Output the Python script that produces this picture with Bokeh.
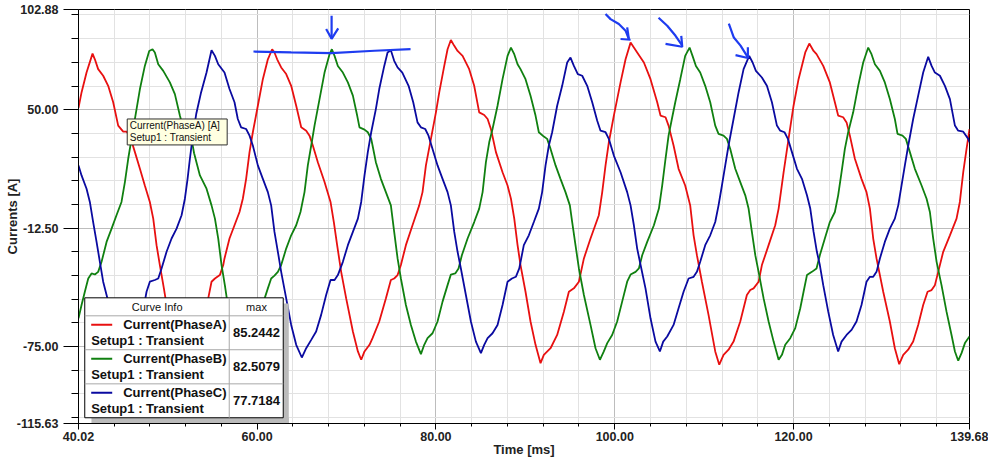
from bokeh.plotting import figure
from bokeh.models import FixedTicker, PrintfTickFormatter, Range1d
from bokeh.core.properties import value
from bokeh.embed import file_html
from bokeh.resources import INLINE

# ---------------- data ----------------
x_start, x_end = 40.02, 139.68
y_start, y_end = -115.63, 102.88
x_major = [40.02, 60.0, 80.0, 100.0, 120.0, 139.68]
x_minor = [44, 48, 52, 56, 64, 68, 72, 76, 84, 88, 92, 96, 104, 108, 112, 116, 124, 128, 132, 136]
y_major = [-115.63, -75.0, -12.5, 50.0, 102.88]
y_minor = [-112.5, -100, -87.5, -62.5, -50, -37.5, -25, 0, 12.5, 25, 37.5, 62.5, 75, 87.5, 100]

t_a = [40.02, 40.36, 40.92, 41.59, 41.85, 42.22, 42.78, 43.34, 43.90, 44.46, 45.02, 45.39, 45.77, 46.33,
       46.89, 47.44, 48.00, 48.38, 48.75, 49.12, 49.57, 50.05, 50.60, 51.20, 51.65, 52.00, 52.60, 53.30,
       53.90, 54.53, 54.90, 55.28, 55.83, 56.21, 56.35, 56.91, 57.47, 58.03, 58.40, 58.77, 59.15, 59.52,
       60.08, 60.64, 61.20, 61.68, 61.94, 62.24, 62.69, 63.25, 63.81, 64.37, 64.93, 65.49, 65.86, 66.23,
       66.79, 67.54, 68.21, 68.58, 68.95, 69.40, 69.96, 70.71, 71.27, 71.64, 72.01, 72.57, 72.91, 73.66,
       74.40, 74.96, 75.33, 75.71, 76.08, 76.64, 77.38, 78.13, 78.50, 78.88, 79.44, 80.00, 80.37, 80.93,
       81.30, 81.67, 82.05, 82.42, 82.98, 83.72, 84.28, 84.84, 85.40, 85.78, 86.15, 86.71, 87.45, 88.01,
       88.39, 88.76, 89.13, 89.46, 90.02, 90.58, 91.14, 91.70, 92.07, 92.82, 93.56, 94.31, 94.87, 95.43,
       95.99, 96.55, 97.29, 98.22, 98.60, 98.97, 99.34, 99.90, 100.65, 101.21, 101.77, 102.14, 102.51,
       103.26, 104.00, 104.75, 105.12, 105.68, 106.02, 106.58, 107.14, 107.88, 108.44, 108.82, 109.19,
       109.75, 110.49, 111.24, 111.69, 112.17, 112.73, 113.29, 114.04, 114.78, 115.16, 115.53, 116.09,
       116.46, 117.21, 117.95, 118.33, 118.89, 119.44, 120.00, 120.56, 121.31, 121.76, 122.24, 122.57,
       123.32, 124.06, 124.62, 124.99, 125.55, 125.93, 126.30, 126.86, 127.60, 128.16, 128.54, 128.91,
       129.28, 130.03, 130.77, 131.33, 131.82, 132.27, 132.82, 133.38, 133.94, 134.50, 134.99, 135.44,
       135.81, 136.18, 136.74, 137.49, 138.23, 138.60, 138.98, 139.35, 139.68]
i_a = [51.0, 59.1, 69.6, 79.6, 76.6, 71.4, 67.9, 62.6, 53.9, 41.6, 38.4, 38.4, 36.3, 27.6,
       18.8, 10.0, 1.3, -7.5, -21.5, -32.0, -44.3, -58.3, -68.0, -77.0, -82.0, -79.0, -76.0, -71.0,
       -61.0, -49.6, -40.8, -39.1, -37.3, -32.0, -28.5, -18.0, -11.0, -4.0, 3.0, 13.5, 27.6, 38.1,
       52.1, 66.1, 76.6, 81.9, 80.2, 76.6, 72.3, 68.8, 62.6, 52.1, 40.7, 38.9, 36.3, 31.1,
       22.3, 11.8, 1.3, -9.3, -21.5, -35.6, -49.6, -67.1, -77.6, -82.0, -77.6, -74.1, -70.6, -61.8,
       -49.6, -39.9, -39.1, -37.3, -32.0, -21.5, -11.0, -0.5, 6.5, 20.6, 34.6, 48.6, 59.1, 73.1,
       81.9, 86.8, 83.7, 81.0, 78.4, 71.4, 62.6, 48.6, 47.2, 45.1, 39.8, 27.6, 17.0, 10.0,
       3.0, -7.5, -21.5, -32.0, -46.1, -61.8, -74.1, -83.8, -79.4, -75.9, -68.9, -56.6, -46.1, -44.3,
       -40.8, -28.5, -18.0, -5.7, 6.5, 20.6, 32.8, 46.9, 64.4, 76.6, 85.4, 82.8, 80.2,
       74.9, 66.1, 53.9, 46.9, 46.0, 41.6, 31.1, 18.8, 10.0, -0.5, -16.3, -26.8,
       -40.8, -58.3, -77.6, -84.6, -79.4, -76.7, -72.4, -61.8, -47.8, -45.2, -44.3, -40.8,
       -32.0, -21.5, -11.0, -2.2, 17.0, 34.6, 52.1, 66.1, 80.2, 84.9, 81.0, 79.3,
       73.1, 64.4, 53.9, 46.9, 46.0, 43.3, 36.3, 24.1, 13.5, 6.5, -2.2, -18.0,
       -28.5, -46.1, -61.8, -75.9, -84.3, -79.4, -76.7, -72.4, -63.6, -53.1, -46.1, -45.2,
       -42.6, -35.6, -25.0, -16.3, -7.5, 1.3, 17.0, 29.3, 39.8]

t_b = [40.02, 40.36, 40.73, 41.11, 41.48, 41.85, 42.22, 42.60, 43.16, 43.72, 44.27, 44.83, 45.21, 45.58,
       45.95, 46.33, 46.89, 47.44, 47.93, 48.30, 48.56, 48.94, 49.50, 50.24, 50.80, 51.36, 51.70, 52.00,
       52.32, 52.70, 52.95, 53.60, 54.34, 54.90, 55.28, 55.65, 56.02, 56.39, 56.72, 57.20, 57.80, 58.30,
       58.67, 59.04, 59.60, 60.16, 60.72, 61.20, 61.57, 61.94, 62.32, 62.69, 63.25, 63.81, 64.37, 64.85,
       65.30, 65.67, 66.05, 66.42, 66.98, 67.54, 68.10, 68.36, 68.66, 69.03, 69.59, 70.15, 70.71, 71.19,
       71.45, 72.01, 72.38, 72.76, 72.91, 73.28, 73.84, 74.40, 74.96, 75.33, 75.71, 76.08, 76.64, 77.20,
       77.76, 78.32, 78.69, 79.06, 79.62, 80.18, 80.74, 81.30, 81.67, 82.16, 82.53, 82.90, 83.54, 84.28,
       84.84, 85.22, 85.59, 85.96, 86.33, 86.89, 87.45, 88.01, 88.39, 88.76, 89.13, 89.46, 90.02, 90.58,
       91.14, 91.51, 92.07, 92.44, 92.82, 93.38, 93.93, 94.49, 94.98, 95.24, 95.61, 95.99, 96.55, 97.29,
       97.85, 98.34, 98.78, 99.16, 99.71, 100.27, 100.83, 101.39, 101.77, 102.33, 102.70, 103.07, 103.63,
       104.38, 104.94, 105.31, 105.68, 106.02, 106.39, 106.77, 107.33, 107.88, 108.37, 108.70, 109.08,
       109.56, 110.12, 110.68, 111.24, 111.61, 112.17, 112.55, 112.92, 113.48, 114.04, 114.60, 114.97,
       115.34, 115.72, 116.09, 116.65, 117.21, 117.77, 118.33, 118.70, 119.07, 119.63, 120.19, 120.75,
       121.12, 121.50, 122.05, 122.57, 122.94, 123.50, 124.06, 124.62, 124.99, 125.37, 125.74, 126.11,
       126.67, 127.23, 127.79, 128.35, 128.72, 129.10, 129.66, 130.21, 130.77, 131.33, 131.63, 132.19,
       132.56, 133.01, 133.57, 134.32, 134.88, 135.25, 135.62, 136.00, 136.55, 137.11, 137.67, 138.05,
       138.42, 138.79, 139.17, 139.68]
i_b = [-60.1, -53.1, -46.1, -39.1, -36.4, -37.0, -35.6, -30.3, -19.8, -12.8, -5.7, 1.3, 11.8, 24.1,
       34.6, 45.1, 60.9, 73.1, 81.0, 81.9, 80.2, 74.0, 70.5, 64.4, 58.2, 46.9, 40.7, 39.5,
       38.1, 33.5, 27.0, 15.3, 8.3, -0.5, -7.5, -18.0, -32.0, -42.6, -53.1, -63.0, -75.0, -80.0,
       -74.1, -70.6, -68.0, -61.8, -51.3, -44.3, -39.1, -37.6, -35.6, -32.0, -23.3, -16.3, -11.0, -4.0,
       6.5, 20.6, 31.1, 41.6, 55.6, 69.6, 79.3, 81.9, 78.4, 73.1, 69.6, 64.4, 57.4, 46.9,
       40.7, 39.5, 38.1, 34.6, 31.1, 22.3, 13.5, 6.5, -0.5, -14.5, -28.5, -39.1, -53.1, -63.6,
       -72.4, -79.0, -74.1, -70.6, -68.0, -61.8, -51.3, -42.6, -37.0, -36.4, -33.8, -26.8, -18.0, -9.3,
       -2.2, 6.5, 22.3, 32.8, 39.8, 52.1, 66.1, 78.4, 82.8, 79.3, 74.0, 71.4, 66.1, 57.4,
       46.9, 38.1, 35.8, 34.6, 29.3, 20.6, 13.5, 6.5, -0.5, -9.3, -21.5, -33.8, -47.8, -63.6,
       -75.9, -82.0, -77.6, -73.2, -68.9, -61.8, -51.3, -40.8, -37.0, -35.6, -33.8, -26.8, -19.8,
       -11.0, -2.2, 10.0, 24.1, 36.3, 45.1, 53.9, 66.1, 78.4, 82.8, 78.4, 73.1,
       69.6, 62.6, 53.9, 41.6, 37.2, 36.3, 34.6, 29.3, 18.8, 11.8, 4.8, -2.2,
       -14.5, -26.8, -35.6, -49.6, -61.8, -72.4, -82.0, -79.4, -74.1, -70.6, -65.3, -54.8,
       -46.1, -37.3, -35.6, -33.8, -26.8, -18.0, -9.3, -4.0, 4.8, 17.0, 29.3, 38.1,
       48.6, 62.6, 74.9, 82.8, 79.3, 74.0, 70.5, 64.4, 55.6, 45.1, 37.2, 36.3,
       34.6, 27.6, 18.8, 10.0, 3.0, -4.0, -18.0, -30.3, -42.6, -56.6, -68.9, -77.6,
       -82.5, -78.5, -73.2, -69.7]

t_c = [40.02, 40.36, 40.92, 41.29, 41.66, 42.04, 42.41, 42.78, 43.16, 43.60, 44.20, 44.60, 45.00, 45.40,
       46.00, 46.60, 47.10, 47.63, 48.00, 48.56, 48.94, 49.31, 49.87, 50.43, 50.99, 51.55, 51.92, 52.22,
       52.48, 52.80, 53.20, 53.70, 54.34, 54.90, 55.28, 55.65, 56.35, 56.91, 57.47, 57.84, 58.21, 58.77,
       59.15, 59.52, 60.08, 60.64, 61.20, 61.57, 61.94, 62.32, 62.69, 63.25, 63.81, 64.37, 65.00, 65.49,
       66.05, 66.60, 67.16, 67.72, 68.21, 68.66, 69.03, 69.59, 70.15, 70.71, 71.27, 71.64, 72.01, 72.38,
       72.76, 73.28, 73.66, 74.22, 74.59, 74.96, 75.33, 75.71, 76.24, 76.94, 77.46, 77.94, 78.32, 78.80,
       79.17, 79.62, 80.18, 80.74, 81.30, 81.67, 82.05, 82.42, 82.79, 83.35, 83.91, 84.47, 85.03, 85.40,
       85.78, 86.33, 86.89, 87.45, 88.01, 88.50, 88.94, 89.32, 89.83, 90.39, 90.95, 91.51, 91.88, 92.26,
       92.63, 93.00, 93.56, 94.12, 94.68, 95.05, 95.43, 95.87, 96.36, 96.92, 97.48, 98.04, 98.41, 98.97,
       99.34, 99.90, 100.65, 101.39, 101.77, 102.14, 102.51, 102.89, 103.44, 104.00, 104.56, 105.05,
       105.42, 105.87, 106.58, 107.14, 107.70, 108.26, 108.82, 109.19, 109.56, 110.12, 110.68, 111.24,
       111.61, 111.99, 112.36, 112.73, 113.29, 113.85, 114.41, 115.04, 115.42, 115.79, 116.46, 117.02,
       117.58, 118.14, 118.51, 118.99, 119.37, 119.82, 120.38, 120.94, 121.50, 121.87, 122.24, 122.61,
       122.94, 123.32, 123.88, 124.43, 124.99, 125.37, 125.93, 126.49, 127.04, 127.60, 128.16, 128.54,
       128.91, 129.28, 129.66, 130.21, 130.77, 131.33, 131.71, 132.08, 132.45, 132.83, 133.38, 133.94,
       134.50, 135.06, 135.44, 135.81, 136.37, 136.93, 137.49, 138.05, 138.42, 138.98, 139.54, 139.68]
i_c = [20.6, 15.3, 8.3, 1.3, -9.3, -19.8, -30.3, -40.8, -47.8, -56.0, -67.0, -75.0, -79.5, -75.0,
       -72.5, -69.0, -60.0, -46.1, -40.8, -39.9, -39.1, -33.8, -25.0, -18.0, -12.8, -5.7, 3.0, 13.5,
       24.1, 36.0, 48.0, 58.5, 69.6, 81.4, 78.4, 74.0, 69.6, 60.9, 53.9, 45.1, 40.7, 39.8,
       36.3, 31.1, 20.6, 13.5, 6.5, -0.5, -14.5, -25.0, -35.6, -49.6, -63.6, -74.1, -80.8, -75.9,
       -71.5, -67.1, -58.3, -47.8, -39.9, -39.9, -37.3, -30.3, -21.5, -14.5, -7.5, 1.3, 15.3, 27.6,
       38.1, 50.3, 60.9, 73.1, 80.2, 81.4, 75.8, 72.3, 69.6, 62.6, 53.9, 43.3, 40.7, 39.8,
       36.3, 29.3, 20.6, 13.5, 6.5, -0.5, -14.5, -25.0, -33.8, -47.8, -61.8, -72.4, -78.5, -74.1,
       -70.6, -68.0, -63.6, -53.1, -40.8, -39.1, -38.2, -33.8, -21.5, -16.3, -9.3, -2.2, 6.5, 20.6,
       31.1, 38.1, 52.1, 62.6, 74.9, 77.5, 73.1, 68.8, 67.9, 62.6, 53.9, 44.2, 38.9, 38.1,
       34.6, 25.8, 17.0, 6.5, -0.5, -11.0, -23.3, -32.0, -44.3, -60.1, -72.4, -77.6,
       -72.4, -69.7, -63.6, -54.8, -46.1, -39.1, -38.2, -35.6, -30.3, -21.5, -16.3, -9.3,
       -0.5, 10.0, 20.6, 31.1, 45.1, 59.1, 71.4, 78.4, 74.9, 70.5, 67.0, 62.6,
       53.9, 41.6, 38.9, 38.1, 34.6, 27.6, 18.8, 13.5, 4.8, -2.2, -14.5, -25.0,
       -32.0, -42.6, -56.6, -68.9, -77.6, -72.4, -68.9, -66.2, -61.8, -53.1, -40.8, -38.2,
       -38.2, -35.6, -28.5, -19.8, -12.8, -7.5, -0.5, 10.0, 20.6, 31.1, 45.1, 57.4,
       69.6, 77.9, 73.1, 69.6, 67.9, 62.6, 55.6, 41.6, 38.9, 38.4, 34.6, 32.8]

curve_names = ["Current(PhaseA)", "Current(PhaseB)", "Current(PhaseC)"]
curve_setup = "Setup1 : Transient"
curve_max = ["85.2442", "82.5079", "77.7184"]
tooltip_lines = ["Current(PhaseA) [A]", "Setup1 : Transient"]

# hand-drawn marks on the picture (time, current)
mark_line_t = [59.59, 63.81, 68.29, 73.13, 77.16]
mark_line_i = [80.7, 80.2, 79.9, 81.1, 82.0]

# ---------------- styles ----------------
COL = ["#E81010", "#108010", "#0A0AA0"]
MARK = "#1E3CF0"
FONT = "Liberation Sans"

p = figure(width=988, height=459, x_range=Range1d(x_start, x_end), y_range=Range1d(y_start, y_end),
           output_backend="svg", toolbar_location=None,
           min_border_left=78, min_border_right=19, min_border_top=9, min_border_bottom=36)
p.background_fill_color = "white"
p.border_fill_color = "white"
p.outline_line_color = "black"
p.outline_line_width = 1

p.xaxis.ticker = FixedTicker(ticks=x_major, minor_ticks=x_minor)
p.yaxis.ticker = FixedTicker(ticks=y_major, minor_ticks=y_minor)
for ax in (p.xaxis, p.yaxis):
    ax.formatter = PrintfTickFormatter(format="%.2f")
    ax.major_label_text_font = FONT
    ax.major_label_text_font_style = "bold"
    ax.major_label_text_font_size = "12.5px"
    ax.major_label_text_color = "#222222"
    ax.axis_label_text_font = FONT
    ax.axis_label_text_font_style = "bold"
    ax.axis_label_text_font_size = "13px"
    ax.axis_label_text_color = "#222222"
    ax.axis_line_color = "black"
    ax.major_tick_line_color = "black"
    ax.minor_tick_line_color = "black"
    ax.major_tick_in = 0
    ax.minor_tick_in = 0
p.xaxis.major_tick_out = 6
p.xaxis.minor_tick_out = 3
p.xaxis.major_label_standoff = 2
p.xaxis.axis_label = "Time [ms]"
p.xaxis.axis_label_standoff = -2
p.yaxis.major_tick_out = 15
p.yaxis.minor_tick_out = 7
p.yaxis.major_label_standoff = 5
p.yaxis.axis_label = "Currents [A]"
p.yaxis.axis_label_standoff = -6

for g in (p.xgrid, p.ygrid):
    g.grid_line_color = "#BDBDBD"
    g.minor_grid_line_color = "#E2E2E2"
    g.grid_line_width = 1
    g.minor_grid_line_width = 1

# curves
for tt, ii, c in zip((t_a, t_b, t_c), (i_a, i_b, i_c), COL):
    p.line(tt, ii, line_color=c, line_width=1.8)

# hand-drawn annotations
p.line(mark_line_t, mark_line_i, line_color=MARK, line_width=2.2)
strokes = [
    ([68.33, 68.33], [99.6, 87.4]), ([67.72, 68.33, 69.07], [92.6, 87.4, 92.9]),
    ([98.97, 99.53, 100.46, 101.21, 101.58], [100.5, 97.8, 95.2, 91.7, 87.3]),
    ([100.65, 101.77], [87.3, 86.9]), ([101.39, 101.58], [93.4, 87.3]),
    ([104.90, 105.87, 106.80, 107.55], [98.5, 94.3, 89.0, 83.8]),
    ([105.68, 107.55, 107.44], [84.7, 83.2, 89.0]),
    ([112.76, 113.32, 114.07, 114.89], [95.4, 88.1, 83.8, 77.6]),
    ([113.51, 114.89, 114.89], [78.8, 77.3, 82.9]),
]
for sx, sy in strokes:
    p.line(sx, sy, line_color=MARK, line_width=2.2)

# tooltip box
p.quad(left=[45.47], right=[56.65], top=[45.1], bottom=[31.4], fill_color="#FFFFE1", line_color="#303030", line_width=1)
p.text(x=[45.76, 45.76], y=[41.6, 35.1], text=tooltip_lines, text_font=value(FONT),
       text_font_size="10px", text_baseline="middle", text_align="left", text_color="#111111")

# legend table
row_h = 17.93
p.quad(left=[62.92, 41.47], right=[63.54, 63.54], top=[-52.3, -112.6], bottom=[-115.63, -115.63],
       fill_color="#BBBBBB", line_color=None)
p.quad(left=[40.72], right=[62.92], top=[-49.3], bottom=[-112.6], fill_color="white", line_color="black", line_width=1)
p.segment(x0=[40.72, 40.72, 40.72], x1=[62.92, 62.92, 62.92], y0=[-58.8, -76.7, -94.7], y1=[-58.8, -76.7, -94.7],
          line_color="#A8A8A8", line_width=1)
p.segment(x0=[56.88], x1=[56.88], y0=[-49.3], y1=[-112.6], line_color="#A8A8A8", line_width=1)
p.text(x=[48.82, 59.93], y=[-54.1, -54.1], text=["Curve Info", "max"], text_font=value(FONT),
       text_font_size="11px", text_baseline="middle", text_align="center", text_color="#111111")
for r in range(3):
    yl = -63.5 - row_h * r
    p.segment(x0=[41.44], x1=[43.79], y0=[yl], y1=[yl], line_color=COL[r], line_width=2)
    p.text(x=[45.02], y=[yl], text=[curve_names[r]], text_font=value(FONT), text_font_size="13px",
           text_font_style="bold", text_baseline="middle", text_align="left", text_color="#111111")
    p.text(x=[41.44], y=[-71.8 - row_h * r], text=[curve_setup], text_font=value(FONT), text_font_size="13px",
           text_font_style="bold", text_baseline="middle", text_align="left", text_color="#111111")
    p.text(x=[59.93], y=[-67.8 - row_h * r], text=[curve_max[r]], text_font=value(FONT), text_font_size="13px",
           text_font_style="bold", text_baseline="middle", text_align="center", text_color="#111111")

open("out.html", "w").write(file_html(p, INLINE))
